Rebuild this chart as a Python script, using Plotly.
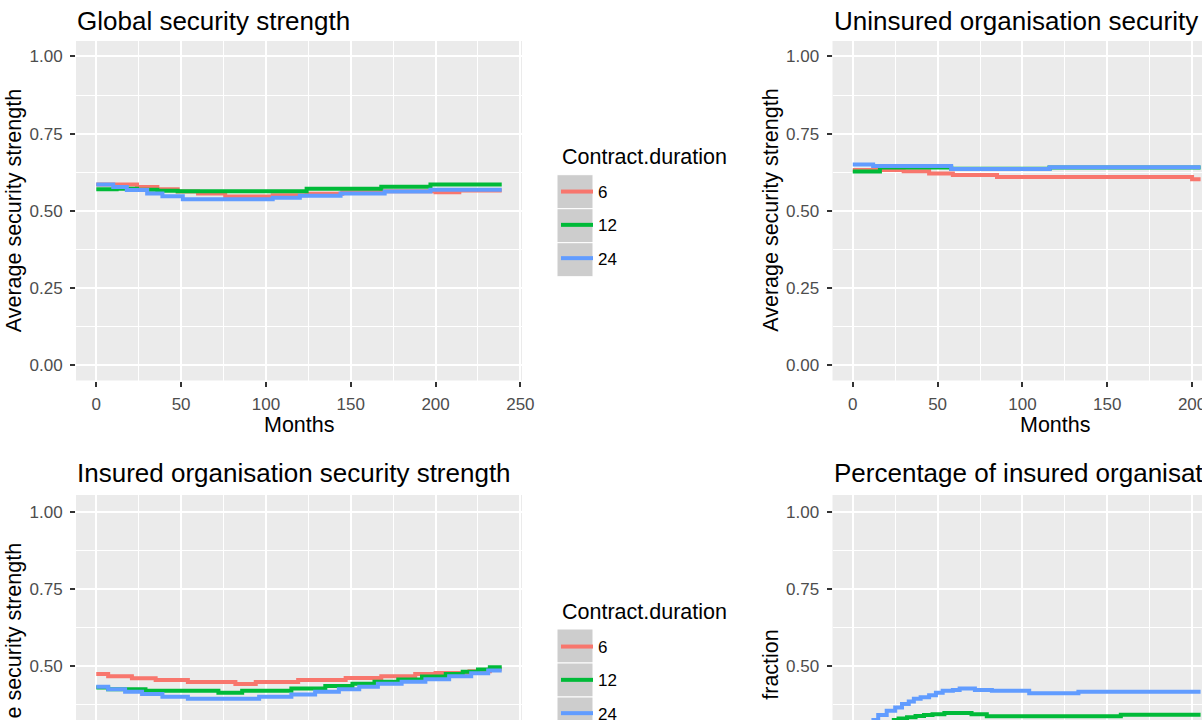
import plotly.graph_objects as go

FONT = "Liberation Sans, Arial, sans-serif"

# ---------------- data ----------------
durations = ["6", "12", "24"]
colors = {"6": "#F8766D", "12": "#00BA38", "24": "#619CFF"}

panel_titles = [
    "Global security strength",
    "Uninsured organisation security strength",
    "Insured organisation security strength",
    "Percentage of insured organisations",
]
y_titles = ["Average security strength", "Average security strength",
            "Average security strength", "fraction"]
x_title = "Months"
legend_title = "Contract.duration"
x_tick_values = [0, 50, 100, 150, 200, 250]
x_tick_labels = ["0", "50", "100", "150", "200", "250"]
y_tick_values = [0, 0.25, 0.5, 0.75, 1.0]
y_tick_labels = ["0.00", "0.25", "0.50", "0.75", "1.00"]

# Global security strength
global_months_6 = [0, 24, 36, 48, 60, 76, 104, 124, 145, 168, 200, 214, 239]
global_values_6 = [0.585, 0.577, 0.570, 0.562, 0.556, 0.546, 0.550, 0.555, 0.560, 0.563, 0.560, 0.566, 0.566]
global_months_12 = [0, 12, 24, 36, 48, 124, 168, 197, 239]
global_values_12 = [0.570, 0.571, 0.568, 0.565, 0.563, 0.571, 0.578, 0.585, 0.585]
global_months_24 = [0, 10, 18, 30, 39, 51, 104, 120, 144, 170, 197, 239]
global_values_24 = [0.585, 0.577, 0.567, 0.556, 0.547, 0.537, 0.542, 0.549, 0.556, 0.562, 0.568, 0.568]

# Uninsured organisation security strength
unins_months_6 = [0, 30, 45, 59, 85, 200, 205]
unins_values_6 = [0.632, 0.628, 0.621, 0.616, 0.609, 0.602, 0.602]
unins_months_12 = [0, 16, 58, 116, 205]
unins_values_12 = [0.627, 0.640, 0.636, 0.640, 0.640]
unins_months_24 = [0, 12, 58, 116, 205]
unins_values_24 = [0.650, 0.645, 0.635, 0.641, 0.641]

# Insured organisation security strength
ins_months_6 = [0, 7, 21, 35, 54, 82, 94, 119, 147, 168, 188, 200, 220, 232, 239]
ins_values_6 = [0.473, 0.466, 0.459, 0.453, 0.447, 0.440, 0.447, 0.453, 0.460, 0.466, 0.473, 0.476, 0.482, 0.489, 0.489]
ins_months_12 = [0, 7, 29, 72, 86, 115, 135, 151, 164, 178, 192, 206, 216, 225, 232, 239]
ins_values_12 = [0.429, 0.423, 0.418, 0.412, 0.418, 0.426, 0.434, 0.441, 0.448, 0.455, 0.465, 0.473, 0.480, 0.488, 0.495, 0.495]
ins_months_24 = [0, 7, 17, 27, 39, 54, 96, 115, 129, 143, 155, 166, 180, 194, 208, 221, 231, 239]
ins_values_24 = [0.431, 0.423, 0.415, 0.408, 0.399, 0.392, 0.399, 0.406, 0.415, 0.423, 0.431, 0.441, 0.448, 0.456, 0.466, 0.475, 0.484, 0.484]

# Percentage of insured organisations (only the visible part)
pct_months_12 = [23, 27, 32, 37, 42, 47, 54, 70, 79, 158, 205]
pct_values_12 = [0.323, 0.328, 0.332, 0.336, 0.339, 0.342, 0.346, 0.342, 0.335, 0.340, 0.340]
pct_months_24 = [11, 15, 20, 25, 29, 33, 36, 40, 45, 49, 53, 59, 63, 72, 82, 104, 133, 205]
pct_values_24 = [0.323, 0.339, 0.353, 0.364, 0.375, 0.383, 0.392, 0.397, 0.404, 0.412, 0.418, 0.421, 0.426, 0.421, 0.418, 0.410, 0.415, 0.415]

panels = [
    # (xaxis, yaxis, legend, showlegend, {duration: (months, values)})
    ("x", "y", "legend", True, {"6": (global_months_6, global_values_6),
                                 "12": (global_months_12, global_values_12),
                                 "24": (global_months_24, global_values_24)}),
    ("x2", "y2", "legend", False, {"6": (unins_months_6, unins_values_6),
                                    "12": (unins_months_12, unins_values_12),
                                    "24": (unins_months_24, unins_values_24)}),
    ("x3", "y3", "legend2", True, {"6": (ins_months_6, ins_values_6),
                                    "12": (ins_months_12, ins_values_12),
                                    "24": (ins_months_24, ins_values_24)}),
    ("x4", "y4", "legend2", False, {"12": (pct_months_12, pct_values_12),
                                     "24": (pct_months_24, pct_values_24)}),
]

# ---------------- figure ----------------
W, H = 1202, 720
fig = go.Figure()

for xa, ya, leg, show, series in panels:
    for dur in durations:
        if dur not in series:
            continue
        m, v = series[dur]
        fig.add_trace(go.Scatter(
            x=m, y=v, mode="lines", name=dur,
            line=dict(color=colors[dur], width=4, shape="hv"),
            xaxis=xa, yaxis=ya, legend=leg,
            legendgroup=f"{leg}-{dur}", showlegend=show,
            hoverinfo="skip",
        ))


def fx(p):
    return p / W


def fy(p):
    return 1 - p / H


tickfont = dict(family=FONT, size=17, color="#4D4D4D")


def xcfg(domain, rng, anchor, labels=True):
    return dict(domain=domain, range=rng, anchor=anchor,
                tickmode="array", tickvals=x_tick_values, ticktext=x_tick_labels,
                showticklabels=labels,
                showgrid=True, gridcolor="white", gridwidth=2,
                minor=dict(tick0=0, dtick=25, showgrid=True, gridcolor="white", gridwidth=1),
                zeroline=False, showline=False, ticks="outside", ticklen=5,
                tickwidth=1.5, tickcolor="#333333", tickfont=tickfont,
                ticklabelstandoff=3, ticklabeloverflow="allow", fixedrange=True)


def ycfg(domain, rng, anchor):
    return dict(domain=domain, range=rng, anchor=anchor,
                tickmode="array", tickvals=y_tick_values, ticktext=y_tick_labels,
                showgrid=True, gridcolor="white", gridwidth=2,
                minor=dict(tick0=0, dtick=0.125, showgrid=True, gridcolor="white", gridwidth=1),
                zeroline=False, showline=False, ticks="outside", ticklen=5,
                tickwidth=1.5, tickcolor="#333333", tickfont=tickfont,
                ticklabelstandoff=4, ticklabeloverflow="allow", fixedrange=True)


left_x = [fx(76), fx(522)]
right_x = [fx(832.5), 1.0]
top_y = [fy(380.5), fy(41)]
bottom_y = [0.0, fy(495)]

fig.update_layout(
    width=W, height=H,
    margin=dict(l=0, r=0, t=0, b=0, autoexpand=False),
    paper_bgcolor="white", plot_bgcolor="#EBEBEB",
    xaxis=xcfg(left_x, [-11.95, 250.95], "y"),
    yaxis=ycfg(top_y, [-0.05, 1.05], "x"),
    xaxis2=xcfg(right_x, [-11.95, 205.85], "y2"),
    yaxis2=ycfg(top_y, [-0.05, 1.05], "x2"),
    xaxis3=xcfg(left_x, [-11.95, 250.95], "y3", labels=False),
    yaxis3=ycfg(bottom_y, [0.3229, 1.0568], "x3"),
    xaxis4=xcfg(right_x, [-11.95, 205.85], "y4", labels=False),
    yaxis4=ycfg(bottom_y, [0.3229, 1.0568], "x4"),
    showlegend=True,
)

legend_common = dict(xanchor="left", yanchor="top", bgcolor="rgba(0,0,0,0)",
                     borderwidth=0, font=dict(family=FONT, size=17, color="#000000"),
                     tracegroupgap=8.2, traceorder="grouped", itemclick=False,
                     itemdoubleclick=False, itemwidth=32)
fig.update_layout(
    legend=dict(x=fx(556), y=fy(174), **legend_common),
    legend2=dict(x=fx(556), y=fy(629), **legend_common),
)

# legend key backgrounds (ggplot style grey keys)
KEY_H = 34.0
shapes = []
for top in (174.7, 629.0):
    for i in range(3):
        shapes.append(dict(type="rect", xref="paper", yref="paper",
                           x0=fx(557), x1=fx(593),
                           y0=fy(top + (i + 1) * KEY_H), y1=fy(top + i * KEY_H),
                           fillcolor="#CDCDCD", line=dict(color="white", width=1),
                           layer="below"))
fig.update_layout(shapes=shapes)

annotations = []
# panel titles
for text, xpx, ypx in [(panel_titles[0], 75, 20.5), (panel_titles[1], 831.5, 20.5),
                       (panel_titles[2], 75, 473), (panel_titles[3], 831.5, 473)]:
    annotations.append(dict(text=text, x=fx(xpx), y=fy(ypx), xref="paper", yref="paper",
                            xanchor="left", yanchor="middle", showarrow=False,
                            font=dict(family=FONT, size=26, color="#000000")))
# y-axis titles
for text, xpx, ypx in [(y_titles[0], 13.5, 210.75), (y_titles[1], 771, 210.75),
                       (y_titles[2], 13.5, 664.75), (y_titles[3], 771, 664.75)]:
    annotations.append(dict(text=text, x=fx(xpx), y=fy(ypx), xref="paper", yref="paper",
                            xanchor="center", yanchor="middle", textangle=-90,
                            showarrow=False,
                            font=dict(family=FONT, size=21.5, color="#000000")))
# x-axis titles
for xpx in (299, 1055):
    annotations.append(dict(text=x_title, x=fx(xpx), y=fy(425), xref="paper", yref="paper",
                            xanchor="center", yanchor="middle", showarrow=False,
                            font=dict(family=FONT, size=21.5, color="#000000")))
# legend titles
for ypx in (157, 611.7):
    annotations.append(dict(text=legend_title, x=fx(559.5), y=fy(ypx), xref="paper",
                            yref="paper", xanchor="left", yanchor="middle",
                            showarrow=False,
                            font=dict(family=FONT, size=21.5, color="#000000")))
fig.update_layout(annotations=annotations)

fig.write_html("out.html")
